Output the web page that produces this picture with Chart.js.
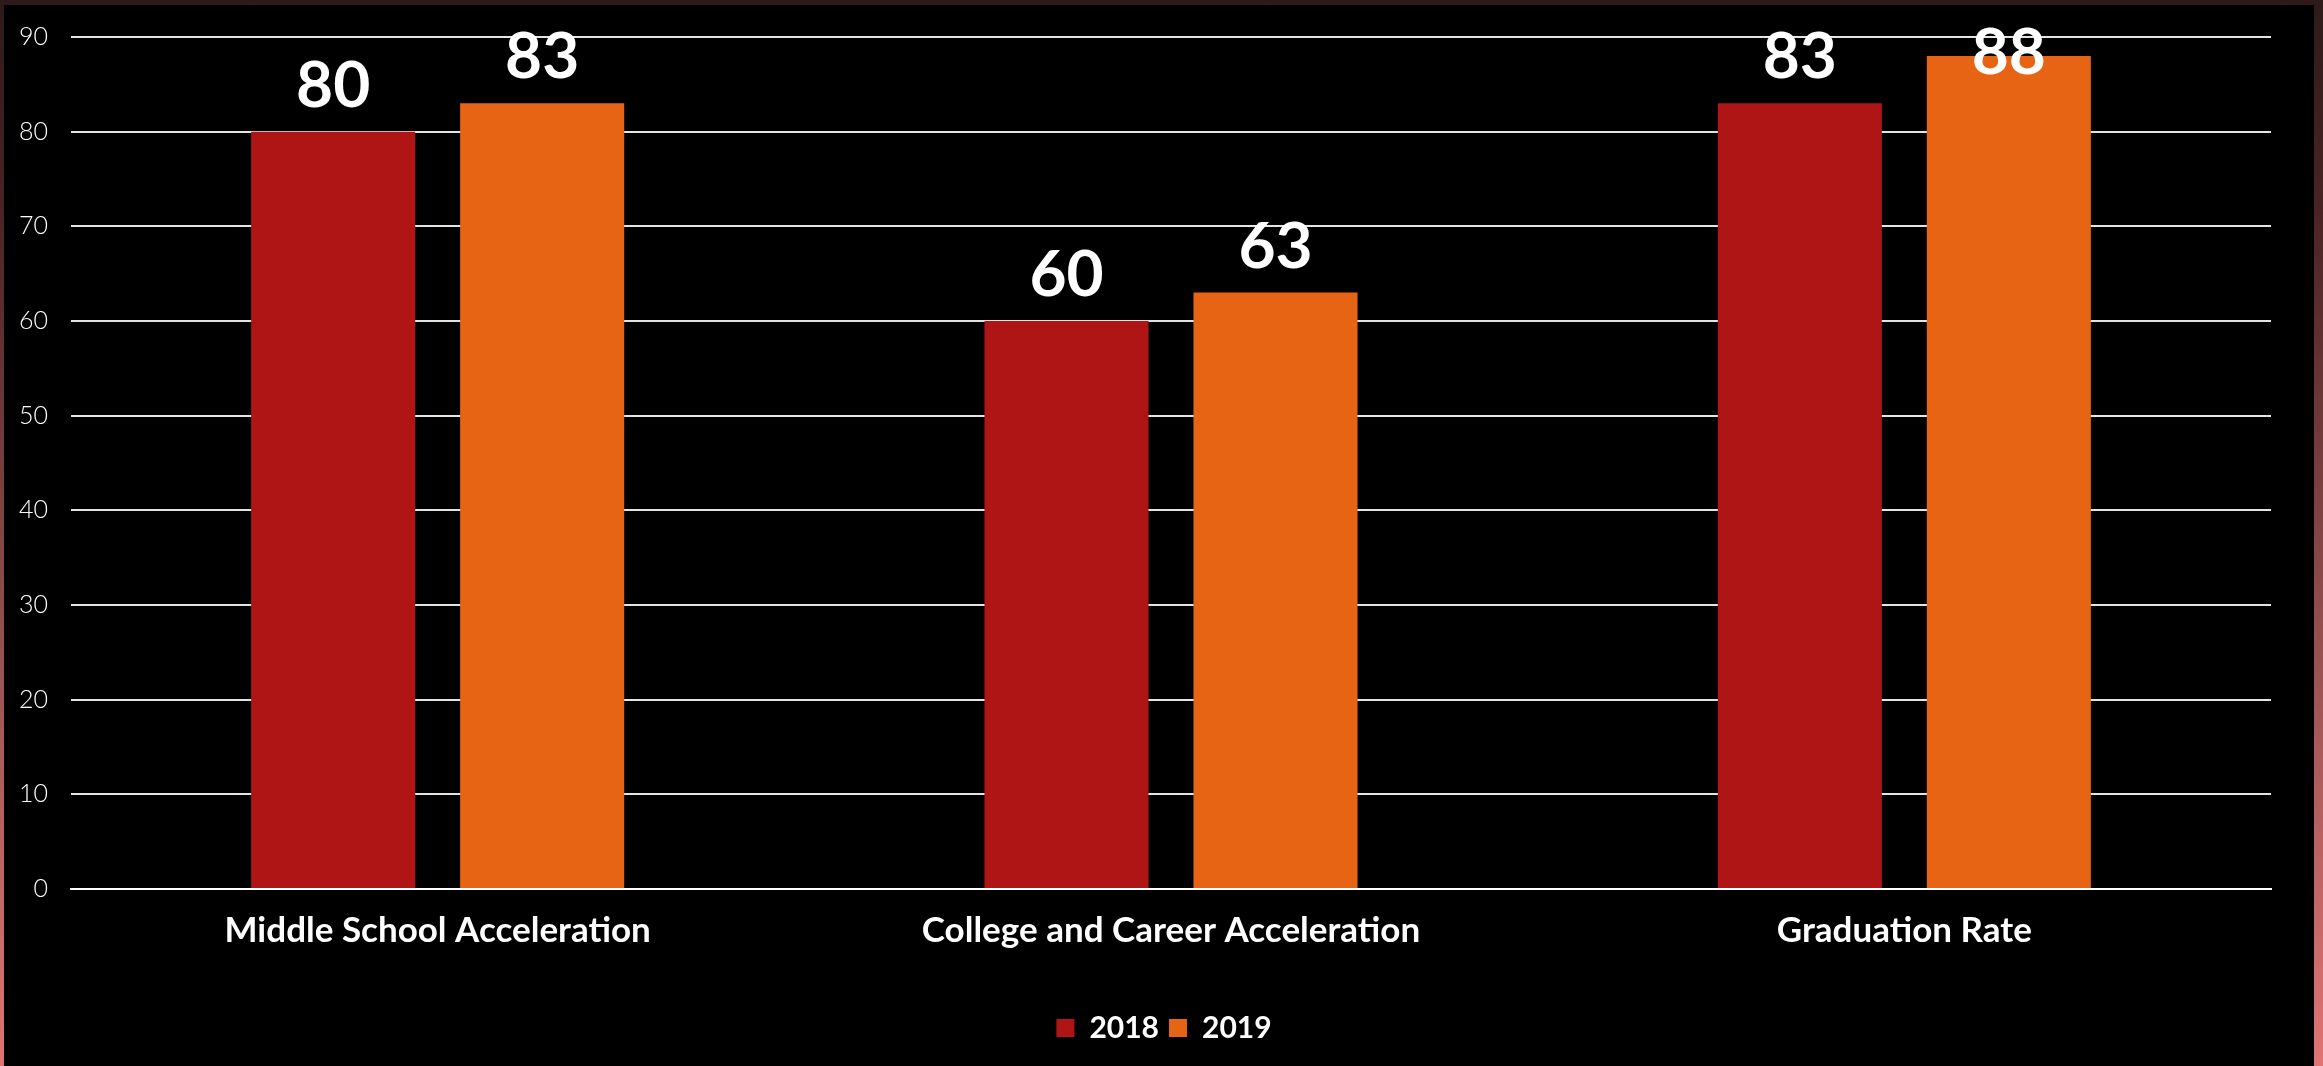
<!DOCTYPE html>
<html>
<head>
<meta charset="utf-8">
<script src="https://cdn.jsdelivr.net/npm/chart.js@4.4.1/dist/chart.umd.min.js"></script>
<style>
  html, body { margin: 0; padding: 0; }
  body {
    width: 2323px; height: 1066px; overflow: hidden; position: relative;
    background: linear-gradient(to bottom, #2e1a1a 0%, #4a2424 20%, #a85a5a 70%, #e07474 100%);
  }
  #wrap { position: absolute; left: 4px; top: 5px; width: 2310px; height: 1061px; background: #000; }
  canvas { display: block; }
</style>
</head>
<body>
<div id="wrap"><canvas id="c" width="2310" height="1061"></canvas></div>
<script>
const categories = ["Middle School Acceleration", "College and Career Acceleration", "Graduation Rate"];
const seriesNames = ["2018", "2019"];
const values2018 = [80, 60, 83];
const values2019 = [83, 63, 88];
const yTicks = [0, 10, 20, 30, 40, 50, 60, 70, 80, 90];

const FONT = "'Lato', 'Open Sans', 'DejaVu Sans', sans-serif";

const valueLabels = {
  id: 'valueLabels',
  afterDatasetsDraw(chart) {
    const ctx = chart.ctx;
    ctx.save();
    ctx.font = "bold 64px " + FONT;
    ctx.fillStyle = '#ffffff';
    ctx.textAlign = 'center';
    ctx.textBaseline = 'alphabetic';
    chart.data.datasets.forEach((ds, i) => {
      const meta = chart.getDatasetMeta(i);
      meta.data.forEach((bar, j) => {
        let y = bar.y - 25;
        if (y < 69) y = 69;
        ctx.fillText(String(ds.data[j]), bar.x, y);
      });
    });
    ctx.restore();
  }
};

new Chart(document.getElementById('c'), {
  type: 'bar',
  data: {
    labels: categories,
    datasets: [
      { label: seriesNames[0], data: values2018, backgroundColor: '#B01515', categoryPercentage: 0.57, barPercentage: 0.785 },
      { label: seriesNames[1], data: values2019, backgroundColor: '#E86415', categoryPercentage: 0.57, barPercentage: 0.785 }
    ]
  },
  options: {
    responsive: false,
    animation: false,
    layout: { padding: { top: 32, right: 0, left: 10, bottom: 13 } },
    plugins: {
      tooltip: { enabled: false },
      legend: {
        position: 'bottom',
        labels: {
          color: '#ffffff',
          font: { family: FONT, size: 30, weight: 'bold' },
          boxWidth: 18, boxHeight: 18, padding: 10
        }
      }
    },
    scales: {
      x: {
        grid: { display: false, drawTicks: false },
        border: { display: true, color: '#ffffff', width: 2 },
        ticks: { color: '#ffffff', font: { family: FONT, size: 35, weight: 'bold' }, padding: 21, maxRotation: 0 },
        afterFit(s) { s.height = 114; }
      },
      y: {
        min: 0, max: 90,
        afterBuildTicks(s) { s.ticks = yTicks.map(v => ({ value: v })); },
        grid: { color: '#e4e4e4', lineWidth: 2, drawTicks: false },
        border: { display: false },
        ticks: { color: '#ffffff', font: { family: FONT, size: 25, weight: 300 }, padding: 23 },
        afterFit(s) { s.width = 57; s.paddingTop = 0; s.paddingBottom = 0; }
      },
      yRight: {
        position: 'right',
        min: 0, max: 90,
        grid: { display: false, drawTicks: false },
        border: { display: false },
        ticks: { display: false },
        afterFit(s) { s.width = 43; s.paddingTop = 0; s.paddingBottom = 0; }
      }
    }
  },
  plugins: [valueLabels]
});
</script>
</body>
</html>
